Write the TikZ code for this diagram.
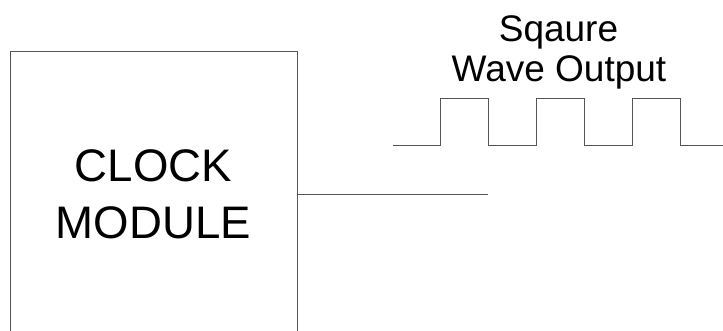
\documentclass[tikz,border=0pt]{standalone}
\usepackage{fontspec}
\setmainfont{Liberation Sans}
\definecolor{linegray}{RGB}{85,85,85}
\begin{document}
\begin{tikzpicture}[x=1pt,y=-1pt,
  wire/.style={draw=linegray,line width=0.9pt},
  module/.style={wire,rectangle,minimum width=287pt,minimum height=286pt,inner sep=0pt,
    align=center,font=\fontsize{45.6}{56.7}\selectfont},
  caption/.style={inner sep=0pt,align=center,font=\fontsize{37}{40}\selectfont}]
\useasboundingbox (0,0) rectangle (723,331);
\clip (0,0) rectangle (723,331);
\node[module] (clk) at (153.5,194) {CLOCK\\MODULE};
\coordinate (out) at (488,194);
\draw[wire] (clk.east |- out) -- (out);
\coordinate (w0) at (392.7,145.7);
\draw[wire] (w0) -- (440.7,145.7) -- (440.7,98.7) -- (488.3,98.7) -- (488.3,145.7)
  -- (536.7,145.7) -- (536.7,98.7) -- (584.3,98.7) -- (584.3,145.7)
  -- (632.3,145.7) -- (632.3,98.7) -- (680,98.7) -- (680,145.7) -- (723,145.7);
\node[caption,anchor=base] (cap1) at (558.5,41.7) {Sqaure};
\node[caption,anchor=base] (cap2) at (559,81.7) {Wave Output};
\end{tikzpicture}
\end{document}
